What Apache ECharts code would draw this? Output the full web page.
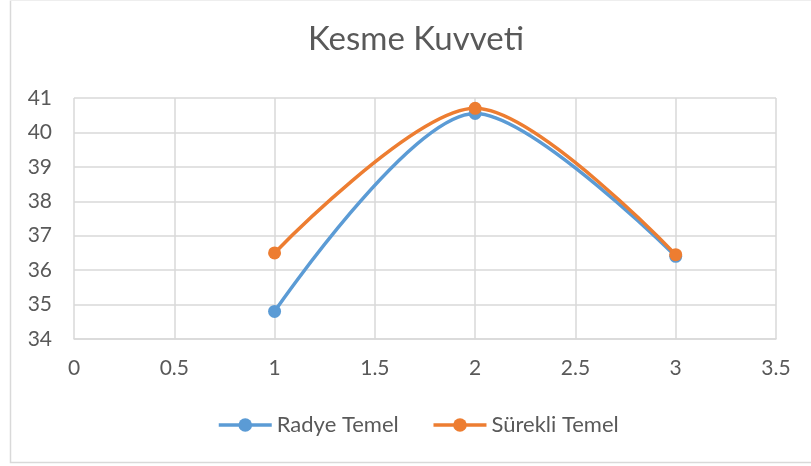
<!DOCTYPE html>
<html>
<head>
<meta charset="utf-8">
<script src="https://cdn.jsdelivr.net/npm/echarts@6/dist/echarts.min.js"></script>
<style>
  html, body { margin: 0; padding: 0; background: #fff; }
  #chart { width: 811px; height: 466px; }
</style>
</head>
<body>
<div id="chart"></div>
<script>
// Kesme kuvveti: two foundation types compared
var xValues = [1, 2, 3];
var radyeTemel = [34.8, 40.55, 36.4];
var surekliTemel = [36.5, 40.7, 36.45];
var seriesNames = ['Radye Temel', 'Sürekli Temel'];
var titleText = 'Kesme Kuvveti';

function pairs(xs, ys) {
  return xs.map(function (x, i) { return [x, ys[i]]; });
}

var textColor = '#595959';
var gridColor = '#d9d9d9';
var fontFamily = 'Lato, "Open Sans", sans-serif';

var chart = echarts.init(document.getElementById('chart'), null, { renderer: 'canvas' });
chart.setOption({
  animation: false,
  backgroundColor: '#fff',
  title: {
    text: titleText,
    left: 308,
    top: 23,
    padding: 0,
    textStyle: { color: textColor, fontSize: 33, fontWeight: 'normal', fontFamily: fontFamily }
  },
  legend: {
    bottom: 30,
    left: 217,
    padding: 0,
    itemWidth: 53,
    itemHeight: 17,
    itemGap: 33,
    lineStyle: { width: 3.5 },
    textStyle: { color: textColor, fontSize: 22, fontFamily: fontFamily },
    data: seriesNames
  },
  grid: { left: 74, right: 35, top: 98, bottom: 127, containLabel: false },
  xAxis: {
    type: 'value',
    min: 0, max: 3.5, interval: 0.5,
    axisLine: { show: true, lineStyle: { color: gridColor, width: 1.5 } },
    axisTick: { show: false },
    axisLabel: { color: textColor, fontSize: 21, fontFamily: fontFamily, margin: 19 },
    splitLine: { show: true, lineStyle: { color: gridColor, width: 1.5 } }
  },
  yAxis: {
    type: 'value',
    min: 34, max: 41, interval: 1,
    axisLine: { show: false },
    axisTick: { show: false },
    axisLabel: { color: textColor, fontSize: 21, fontFamily: fontFamily, margin: 22 },
    splitLine: { show: true, lineStyle: { color: gridColor, width: 1.5 } }
  },
  graphic: [{
    type: 'polyline',
    silent: true,
    shape: { points: [[10.5, 0.5], [10.5, 462.5], [811, 462.5]] },
    style: { stroke: gridColor, lineWidth: 1.5, fill: null }
  }, {
    type: 'line',
    silent: true,
    shape: { x1: 10.5, y1: 0.5, x2: 811, y2: 0.5 },
    style: { stroke: '#eeeeee', lineWidth: 1 }
  }],
  series: [{
    name: seriesNames[0],
    type: 'line',
    data: pairs(xValues, radyeTemel),
    smooth: 0.3,
    symbol: 'circle',
    symbolSize: 13,
    itemStyle: { color: '#5b9bd5' },
    lineStyle: { color: '#5b9bd5', width: 3.5 }
  }, {
    name: seriesNames[1],
    type: 'line',
    data: pairs(xValues, surekliTemel),
    smooth: 0.3,
    symbol: 'circle',
    symbolSize: 13,
    itemStyle: { color: '#ed7d31' },
    lineStyle: { color: '#ed7d31', width: 3.5 }
  }]
});
</script>
</body>
</html>
